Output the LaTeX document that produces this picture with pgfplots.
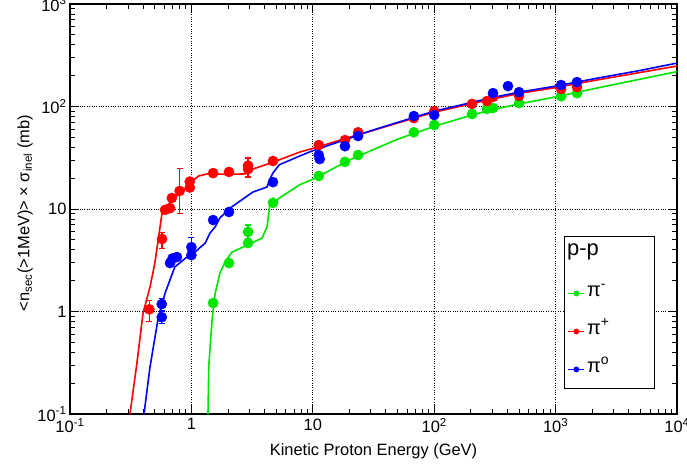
\documentclass[border=0pt]{standalone}
\usepackage{fontspec}
\setmainfont{Liberation Sans}
\usepackage{pgfplots}
\pgfplotsset{compat=1.18}
\usepackage{pgfplotstable}

\definecolor{rgreen}{RGB}{0,230,0}
\definecolor{rred}{RGB}{255,0,0}
\definecolor{rblue}{RGB}{0,0,255}

% model curves
\pgfplotstableread{
x y
0.312 0.1
0.356 0.315
0.40 0.97
0.456 1.73
0.50 2.97
0.573 9.1
0.607 10
0.69 12.1
0.80 14.2
0.92 16.2
1.03 19.0
1.15 21.0
1.35 22.0
2.0 21.8
2.8 22.0
3.2 24.5
4.7 28.6
7.85 36
10 39
20 50
30 57.5
50 69
100 88
200 106
300 118
500 134
1000 153
2000 178
5000 215
10000 248
}\redcurve

\pgfplotstableread{
x y
0.407 0.1
0.456 0.288
0.53 0.83
0.607 1.51
0.73 2.72
0.92 3.4
1.07 3.8
1.30 4.66
1.42 5.8
1.57 6.7
1.72 8.2
2.08 10.2
3.2 14.6
4.2 16.4
4.4 19.2
4.7 22.5
5.3 27
7.85 33
10 37
20 49
30 58
50 70
100 90
200 109
300 122
500 138
1000 158
2000 185
5000 225
10000 265
}\bluecurve

\pgfplotstableread{
x y
1.37 0.1
1.39 0.29
1.48 0.83
1.57 1.51
1.72 2.38
1.89 3.04
2.16 3.8
2.67 4.26
3.82 5.2
4.2 6.7
4.4 10.5
5.3 12.8
7.85 17.3
10 19.5
20 30
30 37
50 48
100 64
200 82
300 93
500 106
1000 124
2000 148
5000 185
10000 219
}\greencurve

% measured points
\pgfplotstableread{
x y ep em
0.45 1.05 0.22 0.25
0.573 5.1 0.8 1.0
0.607 9.8 0 0
0.667 10.2 0 0
0.69 12.8 0 0
0.80 15 10 6
0.97 18.5 0 0
0.97 16.2 0 0
1.51 22.4 0 0
2.04 23 0 0
2.93 24.5 7 4
2.93 26.5 0 0
4.7 29.4 0 0
11.2 42 0 0
18.4 47 0 0
23.6 56 0 0
68 77 0 0
100 90 0 0
205 106 0 0
272 113 0 0
305 124 0 0
500 127 0 0
1110 148 0 0
1500 155 0 0
}\reddata

\pgfplotstableread{
x y ep em
0.57 0.88 0.12 0.12
0.57 1.18 0.15 0.15
0.667 2.97 0 0
0.70 3.3 0 0
0.76 3.4 0 0
1.0 3.55 0 0
1.0 4.25 1.0 0.8
1.51 7.8 0 0
2.04 9.35 0 0
4.7 18.3 0 0
11.2 33.6 0 0
11.4 30.7 0 0
18.4 41 0 0
23.6 51.5 0 0
68 80.7 0 0
100 82.6 0 0
305 135 0 0
405 158 0 0
500 138 0 0
1110 162 10 10
1500 173 12 12
}\bluedata

\pgfplotstableread{
x y ep em
1.51 1.21 0.1 0.1
2.04 2.97 0 0
2.93 4.65 0 0
2.93 5.97 1.0 0.8
4.7 11.5 0 0
11.2 21 0 0
18.4 28.8 0 0
23.6 33.6 0 0
68 56 0 0
100 66 0 0
205 84.5 0 0
272 94.6 0 0
305 96.7 0 0
500 108 0 0
1110 126 0 0
1500 135 0 0
}\greendata

\begin{document}
\begin{tikzpicture}
\useasboundingbox (-70bp,-52bp) rectangle (617bp,414bp);
\begin{axis}[
    scale only axis,
    width=607bp, height=410bp,
    xmode=log, ymode=log,
    xmin=0.1, xmax=10000, ymin=0.1, ymax=1000,
    xtick={0.1,1,10,100,1000,10000},
    xticklabels={10\textsuperscript{-1},1,10,10\textsuperscript{2},10\textsuperscript{3},10\textsuperscript{4}},
    ytick={0.1,1,10,100,1000},
    yticklabels={10\textsuperscript{-1},1,10,10\textsuperscript{2},10\textsuperscript{3}},
    minor xtick={0.2,0.3,0.4,0.5,0.6,0.7,0.8,0.9,2,3,4,5,6,7,8,9,20,30,40,50,60,70,80,90,200,300,400,500,600,700,800,900,2000,3000,4000,5000,6000,7000,8000,9000},
    minor ytick={0.2,0.3,0.4,0.5,0.6,0.7,0.8,0.9,2,3,4,5,6,7,8,9,20,30,40,50,60,70,80,90,200,300,400,500,600,700,800,900},
    grid=major,
    major grid style={black, dotted, line width=0.8bp},
    axis line style={line width=2bp},
    tick style={black, line width=0.8bp},
    major tick length=9bp, minor tick length=5bp,
    tick align=inside,
    ticklabel style={font=\fontsize{16.5}{18}\selectfont},
    xticklabel style={yshift=-1bp},
    label style={font=\fontsize{16.5}{18}\selectfont},
    xlabel={Kinetic Proton Energy (GeV)},
    ylabel={<n\textsubscript{sec}(>1MeV)> × σ\textsubscript{inel} (mb)},
    xlabel style={at={(axis description cs:0.5,-0.09)}, anchor=center},
    ylabel style={at={(axis description cs:-0.074,0.49)}, anchor=center},
    legend image code/.code={\draw[mark repeat=2,mark phase=2,#1] plot coordinates {(0bp,0bp) (8bp,0bp) (16bp,0bp)};},
    legend style={at={(axis description cs:0.8143,0.434)}, anchor=north west,
        draw=black, line width=0.8bp, fill=white,
        font=\fontsize{20}{22}\selectfont, row sep=0bp,
        inner xsep=3bp, inner ysep=0bp,
        nodes={inner xsep=2bp, inner ysep=0bp, text width=62bp, align=left,
               text height=22bp, text depth=16bp}},
    legend cell align=left,
]
\addlegendimage{empty legend}
\addlegendentry[text height=19bp, text depth=19bp]{\fontsize{22}{24}\selectfont\hspace*{-20bp}p-p}
\addlegendimage{rgreen, line width=1.4bp, mark=*, mark size=2.2bp}
\addlegendentry{π\textsuperscript{-}}
\addlegendimage{rred, line width=1.4bp, mark=*, mark size=2.2bp}
\addlegendentry{π\textsuperscript{+}}
\addlegendimage{rblue, line width=1.4bp, mark=*, mark size=2.2bp}
\addlegendentry{π\textsuperscript{o}}

\addplot[rred, line width=1.6bp, forget plot] table[x=x,y=y] {\redcurve};
\addplot[rblue, line width=1.6bp, forget plot] table[x=x,y=y] {\bluecurve};
\addplot[rgreen, line width=1.6bp, forget plot] table[x=x,y=y] {\greencurve};

\addplot[rgreen, only marks, mark=*, mark size=5.1bp, forget plot,
    error bars/.cd, y dir=both, y explicit,
    error bar style={line width=1.2bp},
    error mark options={rotate=90, mark size=3bp, line width=1.2bp}]
    table[x=x,y=y,y error plus=ep,y error minus=em] {\greendata};
\addplot[rred, only marks, mark=*, mark size=5.1bp, forget plot,
    error bars/.cd, y dir=both, y explicit,
    error bar style={line width=1.2bp},
    error mark options={rotate=90, mark size=3bp, line width=1.2bp}]
    table[x=x,y=y,y error plus=ep,y error minus=em] {\reddata};
\addplot[rblue, only marks, mark=*, mark size=5.1bp, forget plot,
    error bars/.cd, y dir=both, y explicit,
    error bar style={line width=1.2bp},
    error mark options={rotate=90, mark size=3bp, line width=1.2bp}]
    table[x=x,y=y,y error plus=ep,y error minus=em] {\bluedata};
\end{axis}
\end{tikzpicture}
\end{document}
